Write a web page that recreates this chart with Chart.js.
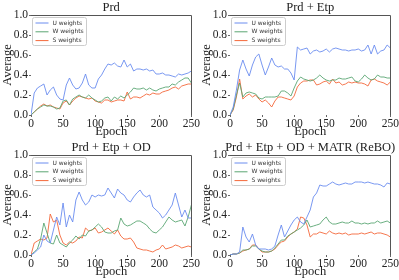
<!DOCTYPE html>
<html>
<head>
<meta charset="utf-8">
<script src="https://cdn.jsdelivr.net/npm/chart.js@4.4.1/dist/chart.umd.min.js"></script>
<style>
  body { margin: 0; background: #fff; overflow: hidden; }
  canvas { position: absolute; }
</style>
</head>
<body>
<canvas id="prd" width="200" height="140" style="left:0;top:0"></canvas>
<canvas id="prd_etp" width="200" height="140" style="left:199px;top:0"></canvas>
<canvas id="prd_etp_od" width="200" height="140" style="left:0;top:140px"></canvas>
<canvas id="rebo" width="200" height="140" style="left:199px;top:140px"></canvas>
<script>
// epocas (eixo x)
const epocas = [0,5,10,15,20,25,30,35,40,45,50,55,60,65,70,75,80,85,90,95,100,
  105,110,115,120,125,130,135,140,145,150,155,160,165,170,175,180,185,190,195,200,
  205,210,215,220,225,230,235,240,245,250];
const ticks_x = [0, 50, 100, 150, 200, 250];
const ticks_y = [0.0, 0.2, 0.4, 0.6, 0.8, 1.0];
const nomes = ['U weights', 'W weights', 'S weights'];
const cores = ['#6a8cef', '#5aa673', '#f4683a'];

// Prd
const prd_u = [0.0,0.22,0.27,0.29,0.31,0.20,0.25,0.28,0.20,0.16,0.15,0.30,0.37,0.30,0.26,0.27,0.32,0.41,0.30,0.27,0.27,
  0.36,0.40,0.46,0.51,0.50,0.52,0.49,0.48,0.55,0.48,0.51,0.44,0.46,0.46,0.45,0.46,0.44,0.45,0.41,0.41,
  0.42,0.40,0.40,0.39,0.38,0.41,0.40,0.41,0.42,0.44];
const prd_w = [0.0,0.03,0.06,0.08,0.10,0.09,0.09,0.08,0.06,0.07,0.14,0.15,0.10,0.16,0.18,0.20,0.18,0.17,0.20,0.17,0.15,
  0.13,0.14,0.17,0.18,0.14,0.18,0.16,0.19,0.17,0.20,0.23,0.27,0.26,0.26,0.27,0.25,0.27,0.25,0.24,0.26,
  0.27,0.28,0.28,0.31,0.30,0.33,0.35,0.37,0.37,0.32];
const prd_s = [0.0,0.03,0.06,0.09,0.11,0.09,0.10,0.08,0.07,0.06,0.12,0.14,0.10,0.14,0.17,0.19,0.18,0.17,0.16,0.17,0.14,
  0.13,0.12,0.15,0.15,0.13,0.14,0.15,0.15,0.14,0.23,0.16,0.18,0.18,0.17,0.19,0.21,0.20,0.22,0.21,0.21,
  0.23,0.24,0.25,0.27,0.28,0.26,0.29,0.30,0.31,0.31];

// Prd + Etp
const etp_u = [0.0,0.08,0.25,0.45,0.55,0.46,0.39,0.50,0.58,0.61,0.50,0.40,0.48,0.57,0.50,0.48,0.49,0.46,0.46,0.42,0.35,
  0.68,0.65,0.66,0.67,0.61,0.64,0.65,0.63,0.64,0.66,0.63,0.66,0.67,0.66,0.65,0.65,0.64,0.65,0.65,0.66,
  0.64,0.65,0.70,0.61,0.70,0.61,0.64,0.65,0.70,0.67];
const etp_w = [0.0,0.06,0.20,0.32,0.18,0.22,0.23,0.22,0.21,0.17,0.16,0.18,0.18,0.18,0.18,0.19,0.24,0.24,0.22,0.19,0.27,
  0.34,0.38,0.36,0.35,0.34,0.35,0.37,0.40,0.37,0.35,0.34,0.35,0.35,0.37,0.36,0.36,0.37,0.38,0.34,0.33,
  0.36,0.40,0.37,0.35,0.36,0.40,0.38,0.38,0.37,0.37];
const etp_s = [0.0,0.05,0.18,0.36,0.16,0.19,0.21,0.18,0.20,0.16,0.13,0.15,0.12,0.08,0.14,0.18,0.18,0.17,0.16,0.15,0.19,
  0.28,0.32,0.34,0.34,0.35,0.35,0.30,0.31,0.33,0.34,0.31,0.36,0.32,0.33,0.30,0.31,0.33,0.32,0.33,0.32,
  0.32,0.31,0.29,0.35,0.36,0.34,0.33,0.32,0.30,0.33];

// Prd + Etp + OD
const od_u = [0.0,0.02,0.05,0.08,0.20,0.14,0.12,0.25,0.38,0.30,0.52,0.28,0.40,0.33,0.55,0.63,0.55,0.50,0.53,0.60,0.58,
  0.60,0.59,0.60,0.67,0.62,0.57,0.66,0.62,0.60,0.55,0.53,0.58,0.62,0.65,0.60,0.58,0.60,0.48,0.45,0.42,
  0.37,0.40,0.45,0.50,0.62,0.50,0.38,0.45,0.37,0.37];
const od_w = [0.0,0.03,0.06,0.16,0.32,0.22,0.12,0.11,0.20,0.12,0.10,0.08,0.12,0.15,0.19,0.16,0.20,0.19,0.24,0.25,0.28,
  0.31,0.28,0.23,0.22,0.22,0.24,0.25,0.37,0.31,0.29,0.30,0.32,0.34,0.34,0.32,0.30,0.26,0.23,0.22,0.25,
  0.28,0.33,0.38,0.35,0.33,0.34,0.35,0.29,0.38,0.50];
const od_s = [0.0,0.12,0.14,0.16,0.15,0.17,0.41,0.33,0.35,0.20,0.12,0.10,0.13,0.12,0.14,0.18,0.17,0.27,0.24,0.25,0.27,
  0.22,0.23,0.25,0.27,0.24,0.21,0.25,0.19,0.16,0.16,0.17,0.13,0.07,0.06,0.05,0.05,0.04,0.03,0.05,0.06,
  0.10,0.06,0.07,0.08,0.10,0.09,0.07,0.08,0.09,0.08];

// Prd + Etp + OD + MATR (ReBO)
const rebo_u = [0.0,0.01,0.01,0.03,0.28,0.18,0.13,0.21,0.10,0.06,0.06,0.06,0.05,0.06,0.09,0.20,0.30,0.18,0.24,0.30,0.35,
  0.38,0.33,0.31,0.38,0.45,0.58,0.62,0.70,0.69,0.69,0.71,0.73,0.71,0.70,0.71,0.72,0.71,0.71,0.73,0.73,
  0.73,0.72,0.73,0.72,0.71,0.71,0.70,0.68,0.72,0.71];
const rebo_w = [0.0,0.01,0.01,0.02,0.05,0.05,0.06,0.09,0.09,0.06,0.04,0.03,0.03,0.04,0.07,0.11,0.15,0.15,0.19,0.21,0.23,
  0.25,0.27,0.30,0.35,0.28,0.29,0.30,0.31,0.35,0.38,0.33,0.31,0.31,0.32,0.33,0.32,0.32,0.34,0.32,0.32,
  0.31,0.32,0.31,0.32,0.32,0.34,0.32,0.33,0.34,0.32];
const rebo_s = [0.0,0.01,0.01,0.02,0.04,0.05,0.06,0.10,0.10,0.06,0.03,0.03,0.03,0.04,0.06,0.10,0.13,0.14,0.18,0.21,0.23,
  0.26,0.38,0.37,0.30,0.18,0.21,0.21,0.23,0.22,0.21,0.24,0.22,0.21,0.22,0.21,0.22,0.20,0.21,0.21,0.21,
  0.22,0.21,0.22,0.23,0.21,0.22,0.22,0.21,0.20,0.18];

// titulo, bordas (topo/direita) e legenda desenhados por cima
const painel = {
    id: 'painel',
    afterDraw(chart, args, opts) {
        const ctx = chart.ctx
        const ca = chart.chartArea
        ctx.save()
        ctx.strokeStyle = '#555'
        ctx.lineWidth = 1
        ctx.beginPath()
        ctx.moveTo(ca.left, Math.round(ca.top) + 0.5)
        ctx.lineTo(Math.round(ca.right) + 0.5, Math.round(ca.top) + 0.5)
        ctx.lineTo(Math.round(ca.right) + 0.5, ca.bottom)
        ctx.stroke()

        ctx.fillStyle = '#222'
        ctx.font = '12.5px "Liberation Serif"'
        ctx.textAlign = 'center'
        ctx.textBaseline = 'middle'
        ctx.fillText(opts.titulo, (ca.left + ca.right) / 2, 8)

        // legenda
        const lx = ca.left + 1.5, ly = ca.top + 2.5
        ctx.fillStyle = 'rgba(255,255,255,0.85)'
        ctx.strokeStyle = '#ccc'
        ctx.beginPath()
        ctx.roundRect(lx, ly, 54, 28, 2)
        ctx.fill()
        ctx.stroke()
        ctx.font = '6px "DejaVu Sans"'
        ctx.textAlign = 'left'
        chart.data.datasets.forEach(function(ds, i){
            const y = ly + 5.5 + i * 8.8
            ctx.strokeStyle = ds.borderColor
            ctx.beginPath()
            ctx.moveTo(lx + 3, y)
            ctx.lineTo(lx + 16, y)
            ctx.stroke()
            ctx.fillStyle = '#333'
            ctx.fillText(ds.label, lx + 20, y)
        })
        ctx.restore()
    }
}

function renderiza_painel(id, titulo, series){
    const ctx = document.getElementById(id).getContext('2d');
    const myChart = new Chart(ctx, {
        type: 'line',
        data: {
            datasets: series.map(function(s, i){
                return {
                    label: nomes[i],
                    data: epocas.map(function(e, j){ return {x: e, y: s[j]} }),
                    borderColor: cores[i],
                    borderWidth: 0.9,
                    pointRadius: 0,
                    tension: 0,
                    fill: false
                }
            })
        },
        options: {
            responsive: false,
            animation: false,
            devicePixelRatio: 1,
            layout: { padding: { top: 15, right: 8, left: 0, bottom: 0 } },
            plugins: {
                legend: { display: false },
                tooltip: { enabled: false },
                painel: { titulo: titulo }
            },
            scales: {
                x: {
                    type: 'linear',
                    min: 0, max: 250,
                    afterBuildTicks: function(axis){ axis.ticks = ticks_x.map(function(v){ return {value: v} }) },
                    afterFit: function(axis){ axis.height = 25 },
                    grid: { drawOnChartArea: false, tickLength: 2, color: '#666' },
                    border: { display: false },
                    ticks: { padding: 0, maxRotation: 0, color: '#222', font: { family: 'Liberation Serif', size: 11.5 } },
                    title: { display: true, text: 'Epoch', color: '#222', padding: { top: 0, bottom: 1 },
                             font: { family: 'Liberation Serif', size: 12.5 } }
                },
                y: {
                    min: 0, max: 1,
                    afterBuildTicks: function(axis){ axis.ticks = ticks_y.map(function(v){ return {value: v} }) },
                    afterFit: function(axis){ axis.width = 31 },
                    grid: { drawOnChartArea: false, tickLength: 2, color: '#666' },
                    border: { display: false },
                    ticks: { padding: 1, color: '#222', font: { family: 'Liberation Serif', size: 11.5 },
                             callback: function(v){ return v.toFixed(1) } },
                    title: { display: true, text: 'Average', color: '#222', padding: { top: 0, bottom: 0 },
                             font: { family: 'Liberation Serif', size: 12.5 } }
                }
            }
        },
        plugins: [painel]
    });
}

renderiza_painel('prd', 'Prd', [prd_u, prd_w, prd_s])
renderiza_painel('prd_etp', 'Prd + Etp', [etp_u, etp_w, etp_s])
renderiza_painel('prd_etp_od', 'Prd + Etp + OD', [od_u, od_w, od_s])
renderiza_painel('rebo', 'Prd + Etp + OD + MATR (ReBO)', [rebo_u, rebo_w, rebo_s])
</script>
</body>
</html>
